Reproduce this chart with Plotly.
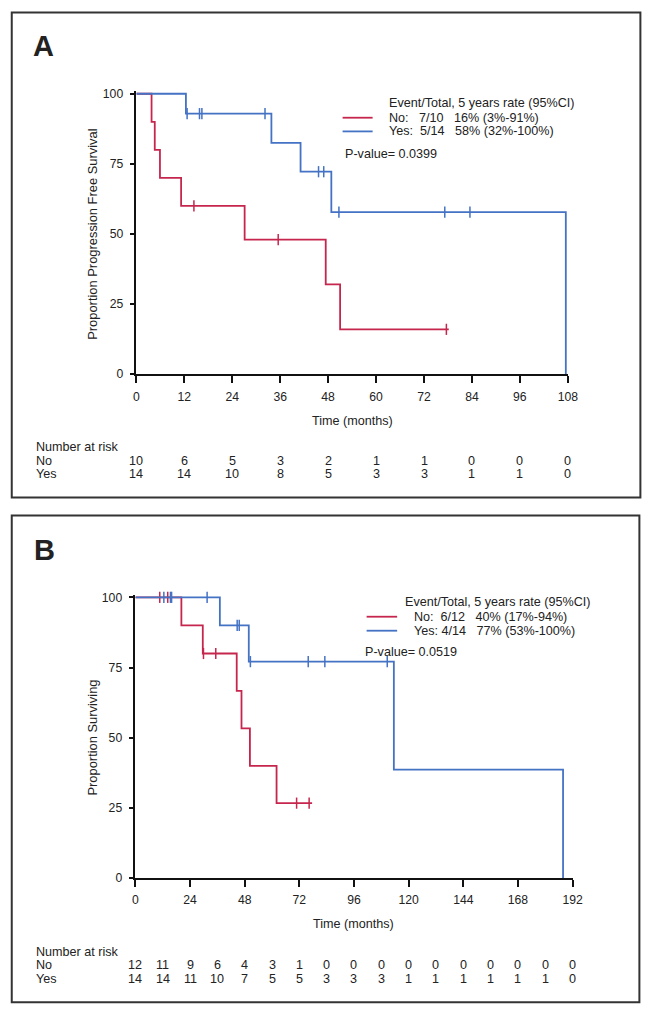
import plotly.graph_objects as go

W, H = 650, 1019
# the photographed page is offset/scaled slightly; map reference pixels to figure pixels
SX, OX = 0.979, 10.75
SY, OY = 0.990, 11.5
RED = "#c6264d"
BLUE = "#4472c4"
FONT = "Liberation Sans, Arial, sans-serif"
TXT = "#222222"
FS = 12.6

# ---------------- Panel A data (Progression free survival) ----------------
a_no_t = [0, 3.8, 4.6, 5.9, 11.2, 27.1, 47.4, 51.0, 78.2]
a_no_s = [100, 90, 80, 70, 60, 48, 32, 16, 16]
a_no_cens_t = [14.4, 35.5, 77.6]
a_no_cens_s = [60, 48, 16]

a_yes_t = [0, 12.4, 33.8, 41.1, 48.8, 107.5]
a_yes_s = [100, 92.9, 82.5, 72.2, 57.8, 0]
a_yes_cens_t = [12.7, 15.8, 16.4, 32.2, 45.6, 46.9, 50.7, 77.2, 83.5]
a_yes_cens_s = [92.9, 92.9, 92.9, 92.9, 72.2, 72.2, 57.8, 57.8, 57.8]

a_xticks = [0, 12, 24, 36, 48, 60, 72, 84, 96, 108]
a_yticks = [0, 25, 50, 75, 100]
a_risk_t = [0, 12, 24, 36, 48, 60, 72, 84, 96, 108]
a_risk_no = [10, 6, 5, 3, 2, 1, 1, 0, 0, 0]
a_risk_yes = [14, 14, 10, 8, 5, 3, 3, 1, 1, 0]

# ---------------- Panel B data (Overall survival) ----------------
b_no_t = [0, 20.2, 29.6, 44.5, 46.6, 50.3, 62.0, 77.6]
b_no_s = [100, 90, 80, 66.7, 53.3, 40, 26.7, 26.7]
b_no_cens_t = [10.7, 14.2, 29.9, 35.3, 70.8, 76.3]
b_no_cens_s = [100, 100, 80, 80, 26.7, 26.7]

b_yes_t = [0, 37.1, 49.8, 113.5, 187.8]
b_yes_s = [100, 90, 77.1, 38.6, 0]
b_yes_cens_t = [12.5, 15.4, 15.9, 31.5, 44.7, 45.6, 50.5, 75.9, 83.2, 110.6]
b_yes_cens_s = [100, 100, 100, 100, 90, 90, 77.1, 77.1, 77.1, 77.1]

b_xticks = [0, 24, 48, 72, 96, 120, 144, 168, 192]
b_yticks = [0, 25, 50, 75, 100]
b_risk_t = [0, 12, 24, 36, 48, 60, 72, 84, 96, 108, 120, 132, 144, 156, 168, 180, 192]
b_risk_no = [12, 11, 9, 6, 4, 3, 1, 0, 0, 0, 0, 0, 0, 0, 0, 0, 0]
b_risk_yes = [14, 14, 11, 10, 7, 5, 5, 3, 3, 3, 1, 1, 1, 1, 1, 1, 0]

# legend / text content
a_header = "Event/Total, 5 years rate (95%CI)"
a_no_lab = "No:   7/10   16% (3%-91%)"
a_yes_lab = "Yes:  5/14   58% (32%-100%)"
a_p = "P-value= 0.0399"
b_header = "Event/Total, 5 years rate (95%CI)"
b_no_lab = "No:  6/12   40% (17%-94%)"
b_yes_lab = "Yes: 4/14   77% (53%-100%)"
b_p = "P-value= 0.0519"


def px(x):
    return ((x - OX) / SX) / W


def py(y):
    return 1 - ((y - OY) / SY) / H


fig = go.Figure()


def add_curves(xa, ya, t_no, s_no, ct_no, cs_no, t_yes, s_yes, ct_yes, cs_yes):
    for t, s, ct, cs, col in [(t_no, s_no, ct_no, cs_no, RED), (t_yes, s_yes, ct_yes, cs_yes, BLUE)]:
        fig.add_trace(go.Scatter(x=t, y=s, mode="lines", line=dict(color=col, width=1.8, shape="hv"),
                                 xaxis=xa, yaxis=ya, showlegend=False, hoverinfo="skip"))
        fig.add_trace(go.Scatter(x=ct, y=cs, mode="markers",
                                 marker=dict(symbol="line-ns", size=8, line=dict(color=col, width=1.5)),
                                 xaxis=xa, yaxis=ya, showlegend=False, hoverinfo="skip", cliponaxis=False))


add_curves("x", "y", a_no_t, a_no_s, a_no_cens_t, a_no_cens_s, a_yes_t, a_yes_s, a_yes_cens_t, a_yes_cens_s)
add_curves("x2", "y2", b_no_t, b_no_s, b_no_cens_t, b_no_cens_s, b_yes_t, b_yes_s, b_yes_cens_t, b_yes_cens_s)

axis_common = dict(showline=True, linecolor="#111", linewidth=1.5, ticks="outside", tickcolor="#111",
                   tickwidth=1.5, showgrid=False, zeroline=False, tickfont=dict(family=FONT, size=12.2, color=TXT))

a_y0, a_y100 = 374.0, 93.3
a_ppu = (a_y0 - a_y100) / 100
b_y0, b_y100 = 878.3, 597.3
b_ppu = (b_y0 - b_y100) / 100

fig.update_layout(
    xaxis=dict(domain=[px(136), px(567)], range=[0, 108], tickvals=a_xticks, anchor="y", ticklen=7,
               ticklabelstandoff=3, **axis_common),
    yaxis=dict(domain=[py(a_y0), py(a_y0 - 101 * a_ppu)], range=[0, 101], tickvals=a_yticks, anchor="x",
               ticklen=5, ticklabelstandoff=4, **axis_common),
    xaxis2=dict(domain=[px(135), px(571.8)], range=[0, 192], tickvals=b_xticks, anchor="y2", ticklen=7,
                ticklabelstandoff=3, **axis_common),
    yaxis2=dict(domain=[py(b_y0), py(b_y0 - 101 * b_ppu)], range=[0, 101], tickvals=b_yticks, anchor="x2",
                ticklen=5, ticklabelstandoff=4, **axis_common),
)

annotations = []
shapes = []


def txt(x, y, s, size=FS, xanchor="left", xref="paper", bold=False, angle=0, color=TXT):
    annotations.append(dict(x=x, y=y, xref=xref, yref="paper", text=("<b>%s</b>" % s) if bold else s,
                            showarrow=False, xanchor=xanchor, yanchor="middle", textangle=angle,
                            font=dict(family=FONT, size=size, color=color)))


# Panel boxes
shapes.append(dict(type="rect", xref="paper", yref="paper", x0=px(11.5), x1=px(639.5), y0=py(497.5), y1=py(12),
                   line=dict(color="#333", width=2)))
shapes.append(dict(type="rect", xref="paper", yref="paper", x0=px(11.5), x1=px(638.5), y0=py(1002.5), y1=py(515.5),
                   line=dict(color="#333", width=2)))

# Panel letters
txt(px(43), py(46), "A", size=29, xanchor="center", bold=True)
txt(px(44), py(550), "B", size=29, xanchor="center", bold=True)

# Axis titles
txt(px(92.5), py((a_y0 + a_y100) / 2), "Proportion Progression Free Survival", size=12.9, angle=-90,
    xanchor="center")
txt(px(351.5), py(420.5), "Time (months)", xanchor="center")
txt(px(92.5), py((b_y0 + b_y100) / 2), "Proportion Surviving", size=12.9, angle=-90, xanchor="center")
txt(px(353), py(924.5), "Time (months)", xanchor="center")

# Legends
txt(px(386.5), py(102.5), a_header)
txt(px(386.5), py(117.5), a_no_lab)
txt(px(386.5), py(131), a_yes_lab)
txt(px(342), py(154), a_p)
shapes.append(dict(type="line", xref="paper", yref="paper", x0=px(342), x1=px(372), y0=py(117.3), y1=py(117.3),
                   line=dict(color=RED, width=1.8)))
shapes.append(dict(type="line", xref="paper", yref="paper", x0=px(342), x1=px(372), y0=py(131), y1=py(131),
                   line=dict(color=BLUE, width=1.8)))

txt(px(402.5), py(601.5), b_header)
txt(px(411.5), py(616.5), b_no_lab)
txt(px(411.5), py(630.5), b_yes_lab)
txt(px(362.5), py(652.5), b_p)
shapes.append(dict(type="line", xref="paper", yref="paper", x0=px(366), x1=px(396.5), y0=py(616.7), y1=py(616.7),
                   line=dict(color=RED, width=1.8)))
shapes.append(dict(type="line", xref="paper", yref="paper", x0=px(366), x1=px(396.5), y0=py(630.7), y1=py(630.7),
                   line=dict(color=BLUE, width=1.8)))

# Risk tables
txt(px(34), py(447), "Number at risk")
txt(px(34), py(460.5), "No")
txt(px(34), py(473.5), "Yes")
for t, n, m in zip(a_risk_t, a_risk_no, a_risk_yes):
    annotations.append(dict(x=t, y=py(460.5), xref="x", yref="paper", text=str(n), showarrow=False,
                            xanchor="center", yanchor="middle", font=dict(family=FONT, size=FS, color=TXT)))
    annotations.append(dict(x=t, y=py(473.5), xref="x", yref="paper", text=str(m), showarrow=False,
                            xanchor="center", yanchor="middle", font=dict(family=FONT, size=FS, color=TXT)))

txt(px(34), py(952), "Number at risk")
txt(px(34), py(965.5), "No")
txt(px(34), py(979), "Yes")
for t, n, m in zip(b_risk_t, b_risk_no, b_risk_yes):
    annotations.append(dict(x=t, y=py(965.5), xref="x2", yref="paper", text=str(n), showarrow=False,
                            xanchor="center", yanchor="middle", font=dict(family=FONT, size=FS, color=TXT)))
    annotations.append(dict(x=t, y=py(979), xref="x2", yref="paper", text=str(m), showarrow=False,
                            xanchor="center", yanchor="middle", font=dict(family=FONT, size=FS, color=TXT)))

fig.update_layout(width=W, height=H, margin=dict(l=0, r=0, t=0, b=0), paper_bgcolor="white",
                  plot_bgcolor="white", annotations=annotations, shapes=shapes, showlegend=False)

fig.write_html("out.html")
